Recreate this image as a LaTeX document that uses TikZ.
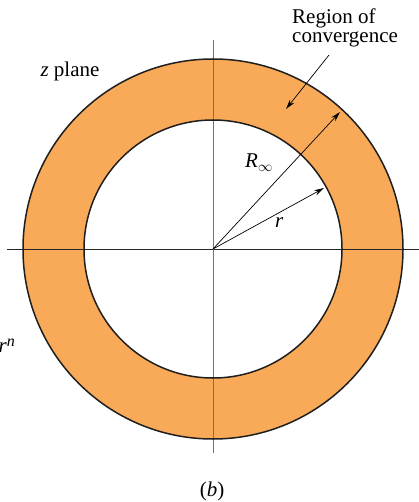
\documentclass[tikz,border=0pt]{standalone}
\usepackage{fontspec}
\setmainfont{Liberation Serif}
\usetikzlibrary{arrows.meta}
\definecolor{roc}{RGB}{248,170,88}
\begin{document}
\begin{tikzpicture}[x=1pt,y=-1pt,
  txt/.style={font=\fontsize{21}{19}\selectfont, inner sep=0pt},
  circ/.style={draw=black!88, line width=1.5pt},
  haxis/.style={draw=black!85, line width=0.9pt},
  vaxis/.style={draw=black!55, line width=0.9pt},
  ptr/.style={-{Stealth[length=10pt,width=5.5pt]}, line width=0.7pt}]
\useasboundingbox (0,0) rectangle (419,502);
\coordinate (O) at (213,249);
\fill[roc, even odd rule] (O) circle[radius=190pt] (O) circle[radius=129pt];
\coordinate (hl) at (7,249);
\coordinate (hr) at (419,249);
\coordinate (vt) at (213.5,40);
\coordinate (vb) at (213.5,453);
\draw[haxis] (hl) -- (hr);
\draw[vaxis] (vt) -- (vb);
\draw[circ] (O) circle[radius=190pt];
\draw[circ] (O) circle[radius=129pt];
\coordinate (Rend) at (340,112);
\coordinate (rend) at (324,188);
\coordinate (rs) at (329,55);
\coordinate (re) at (286,109);
\draw[ptr] (O) -- (Rend);
\draw[ptr] (O) -- (rend);
\draw[ptr] (rs) -- (re);
\node[txt, anchor=base west] (l1) at (292,24) {Region of};
\node[txt, anchor=base west] (l2) at (292,43) {convergence};
\node[txt, anchor=base] (zp) at (70,77) {\textit{z} plane};
\node[txt, anchor=base west] (Rl) at (245,168) {\textit{R}$_\infty$};
\node[txt, anchor=base west] (rl) at (275,228) {\textit{r}};
\node[txt, anchor=base] (bl) at (212,496) {(\textit{b})};
\node[txt, anchor=base east] (rn) at (15,352) {\textit{r}\raisebox{6pt}{\fontsize{16}{16}\selectfont\textit{n}}};
\end{tikzpicture}
\end{document}
